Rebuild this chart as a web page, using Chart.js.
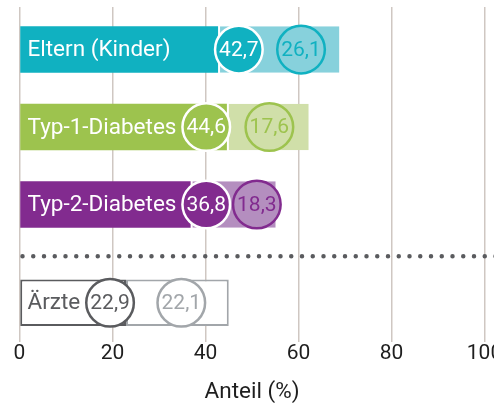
<!DOCTYPE html>
<html>
<head>
<meta charset="utf-8">
<script src="https://cdn.jsdelivr.net/npm/chart.js@4"></script>
<style>
  html, body { margin: 0; padding: 0; background: #fff; overflow: hidden; }
  #wrap { width: 520px; height: 406px; }
</style>
</head>
<body>
<div id="wrap"><canvas id="bar-chart"></canvas></div>
<script>
const categories = ["Eltern (Kinder)", "Typ-1-Diabetes", "Typ-2-Diabetes", "Ärzte"];
const firstValues = [42.7, 44.6, 36.8, 22.9];
const secondValues = [26.1, 17.6, 18.3, 22.1];
const tickValues = [0, 20, 40, 60, 80, 100];

const darkColors = ["#10b1c1", "#9dc34e", "#822b8f", "#5a5b5e"];
const lightColors = ["#87d1dc", "#d0dfa9", "#b48ebf", "#a2a6aa"];
// circle for the first value sits right after the segment end (true) or inside it (false)
const badgeOutside = [true, false, false, false];

// the last row (Ärzte) is set apart below a dotted line
const rowPos = categories.map((c, i) => i + (i === categories.length - 1 ? 0.27 : 0));
const isOutline = (i) => i === categories.length - 1;

Chart.defaults.font.family = "Roboto";

function fmt(v) {
  return v.toFixed(1).replace(".", ",");
}

function badge(ctx, cx, cy, r, fill, stroke, textColor, text) {
  ctx.beginPath();
  ctx.arc(cx, cy, r, 0, Math.PI * 2);
  ctx.fillStyle = fill;
  ctx.fill();
  ctx.lineWidth = 2.5;
  ctx.strokeStyle = stroke;
  ctx.stroke();
  ctx.fillStyle = textColor;
  ctx.textAlign = "center";
  ctx.font = "21px Roboto";
  ctx.fillText(text, cx, cy + 1);
}

const decor = {
  id: "decor",
  beforeDatasetsDraw(chart) {
    const {ctx, chartArea, scales: {y}} = chart;
    const last = rowPos.length - 1;
    const yy = y.getPixelForValue(rowPos[last] - 0.6);
    ctx.save();
    ctx.strokeStyle = "#5a5b5e";
    ctx.lineWidth = 4.5;
    ctx.lineCap = "round";
    ctx.setLineDash([0, 10.75]);
    ctx.beginPath();
    ctx.moveTo(chartArea.left + 3, yy);
    ctx.lineTo(chart.width, yy);
    ctx.stroke();
    ctx.restore();
  },
  afterDatasetsDraw(chart) {
    const {ctx, chartArea, scales: {x, y}} = chart;
    const r = 23.8;
    ctx.save();
    ctx.textBaseline = "middle";
    categories.forEach((name, i) => {
      const cy = y.getPixelForValue(rowPos[i]);
      const outline = isOutline(i);
      const textX = chartArea.left + 8;
      ctx.font = "22.5px Roboto";
      ctx.textAlign = "left";
      ctx.fillStyle = outline ? darkColors[i] : "#fff";
      ctx.fillText(name, textX, cy + 1);
      const textEnd = textX + ctx.measureText(name).width;
      const end1 = x.getPixelForValue(firstValues[i]);
      const end2 = x.getPixelForValue(firstValues[i] + secondValues[i]);
      const c1 = badgeOutside[i] ? end1 + r - 3 : Math.max(textEnd + 6 + r, end1 - r);
      const c2 = Math.max(c1 + 2 * r + 3, (c1 + r + end2) / 2);
      badge(ctx, c1, cy, r,
        outline ? "#fff" : darkColors[i],
        outline ? darkColors[i] : "#fff",
        outline ? darkColors[i] : "#fff",
        fmt(firstValues[i]));
      badge(ctx, c2, cy, r,
        outline ? "#fff" : lightColors[i],
        outline ? lightColors[i] : darkColors[i],
        outline ? lightColors[i] : darkColors[i],
        fmt(secondValues[i]));
    });
    ctx.restore();
  }
};

let chart = new Chart(document.getElementById("bar-chart"), {
  type: "bar",
  data: {
    datasets: [{
      label: "erster Wert",
      data: firstValues.map((v, i) => ({x: v, y: rowPos[i]})),
      backgroundColor: categories.map((c, i) => isOutline(i) ? "#fff" : darkColors[i]),
      borderColor: darkColors,
      borderWidth: (ctx) => isOutline(ctx.dataIndex) ? 2 : 0,
      borderSkipped: false,
      grouped: false,
      barPercentage: 0.6,
      categoryPercentage: 1
    }, {
      label: "zweiter Wert",
      data: secondValues.map((v, i) => ({x: v, y: rowPos[i]})),
      backgroundColor: categories.map((c, i) => isOutline(i) ? "#fff" : lightColors[i]),
      borderColor: categories.map((c, i) => isOutline(i) ? lightColors[i] : "#fff"),
      borderWidth: (ctx) => isOutline(ctx.dataIndex) ? 2 : {left: 2, right: 0, top: 0, bottom: 0},
      borderSkipped: false,
      grouped: false,
      barPercentage: 0.6,
      categoryPercentage: 1
    }]
  },
  options: {
    indexAxis: "y",
    responsive: true,
    maintainAspectRatio: false,
    animation: false,
    layout: {
      padding: {left: 19.5, right: 35.5, top: 7, bottom: 0}
    },
    plugins: {
      legend: {display: false},
      tooltip: {enabled: false}
    },
    scales: {
      x: {
        type: "linear",
        stacked: true,
        min: tickValues[0],
        max: tickValues[tickValues.length - 1],
        afterBuildTicks: (scale) => {
          scale.ticks = tickValues.map((v) => ({value: v}));
        },
        grid: {color: "#cfc7c2", lineWidth: 1.5, drawTicks: false},
        border: {display: false},
        ticks: {
          padding: 0,
          color: "#1e1e1e",
          font: {size: 21}
        },
        title: {
          display: true,
          text: "Anteil (%)",
          color: "#1e1e1e",
          font: {size: 22.5},
          padding: {top: 12.3, bottom: 0}
        }
      },
      y: {
        type: "linear",
        display: false,
        reverse: true,
        offset: false,
        bounds: "data",
        min: -0.55,
        max: 3.77,
        // one tick per row so the bar width follows the row spacing
        afterBuildTicks: (scale) => {
          scale.ticks = rowPos.map((v) => ({value: v}));
        }
      }
    }
  },
  plugins: [decor]
});
</script>
</body>
</html>
